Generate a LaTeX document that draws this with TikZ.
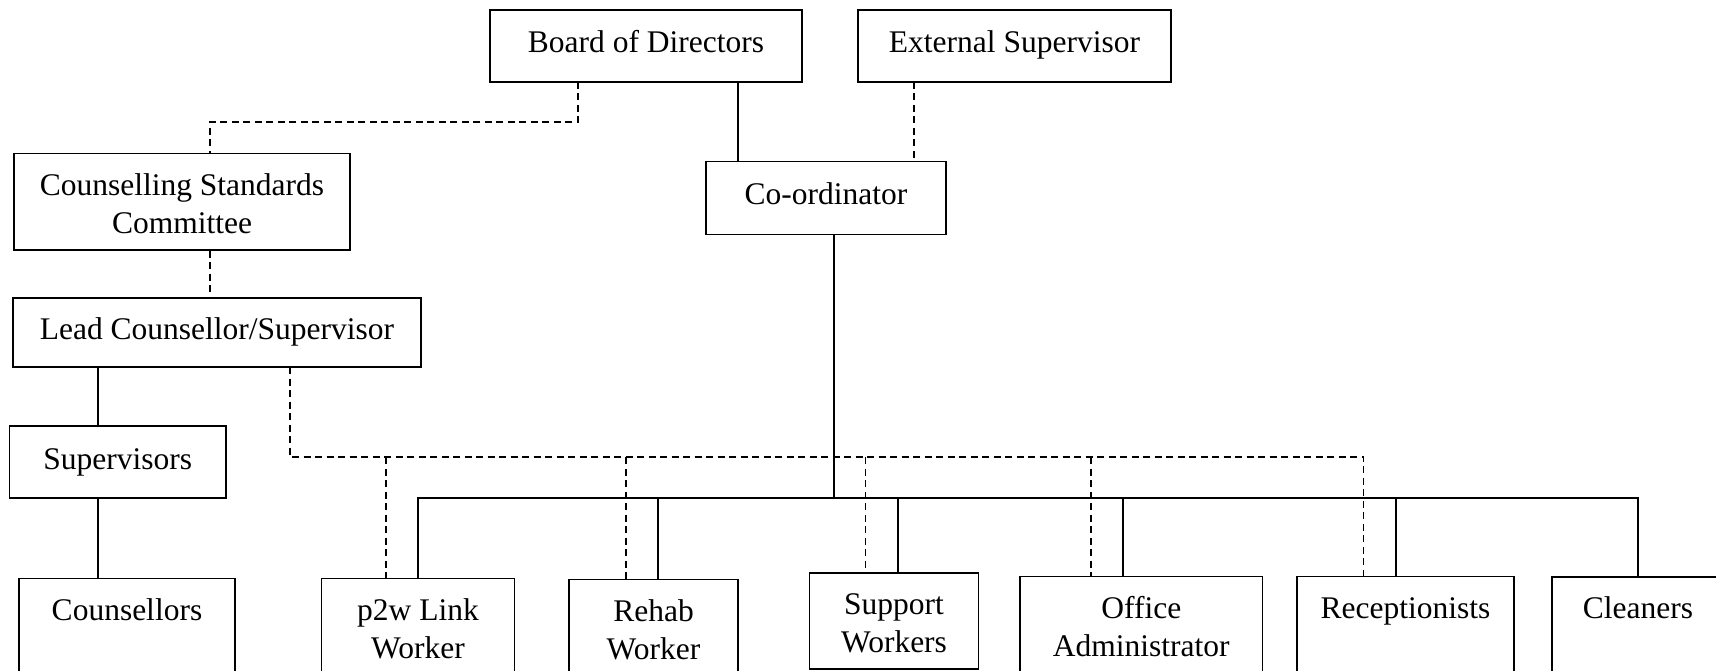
\documentclass[tikz,border=0pt]{standalone}
\usepackage{fontspec}
\setmainfont{Liberation Serif}
\begin{document}
\begin{tikzpicture}[x=1pt,y=-1pt,
  every node/.style={font=\fontsize{31.5}{38}\selectfont},
  box/.style={draw, line width=1.2pt, inner sep=0pt, align=center, text height=22pt, text depth=8pt, anchor=center},
  lowbox/.style={draw, line width=1.2pt, inner sep=0pt, align=center, anchor=north, text height=42pt, text depth=110pt},
  twoline/.style={text height=80pt, text depth=72pt},
  solidline/.style={line width=1.4pt},
  dashline/.style={line width=1.5pt, dash pattern=on 7pt off 4.5pt}]
\useasboundingbox (0,0) rectangle (1716,671);
\clip (0,0) rectangle (1716,671);
% top boxes
\node[box, minimum width=312pt, minimum height=72pt] (board) at (646,46) {Board of Directors};
\node[box, minimum width=313pt, minimum height=72pt] (ext) at (1014.5,46) {External Supervisor};
\node[box, minimum width=240pt, minimum height=73pt] (coord) at (826,198) {Co-ordinator};
\node[box, minimum width=336pt, minimum height=96.5pt, text height=64pt, text depth=0pt] (csc) at (182,201.7) {Counselling Standards\\Committee};
\node[box, minimum width=408pt, minimum height=69pt] (lead) at (217,332.5) {Lead Counsellor/Supervisor};
\node[box, minimum width=216.5pt, minimum height=72pt] (sup) at (117.7,462) {Supervisors};
% bottom boxes
\node[lowbox, minimum width=216pt] (couns) at (127,578) {Counsellors};
\node[lowbox, twoline, minimum width=192.5pt] (p2w) at (418,578) {p2w Link\\Worker};
\node[lowbox, twoline, minimum width=169pt] (rehab) at (653.5,579) {Rehab\\Worker};
\node[lowbox, text height=80pt, text depth=16pt, minimum width=168.5pt] (support) at (894,572.3) {Support\\Workers};
\node[lowbox, twoline, minimum width=242.6pt] (office) at (1141.3,575.7) {Office\\Administrator};
\node[lowbox, minimum width=217pt] (recep) at (1405.5,575.7) {Receptionists};
\node[lowbox, minimum width=172pt] (clean) at (1638,576.3) {Cleaners};
% coordinates
\coordinate (bd) at (578,82);
\coordinate (bdk) at (578,122);
\coordinate (cscTop) at (210,122);
\coordinate (bs) at (738,82);
\coordinate (es) at (914,82);
\coordinate (cs) at (834,234);
\coordinate (busC) at (834,498);
\coordinate (busL) at (418,498);
\coordinate (busR) at (1638,498);
\coordinate (ld) at (290,367);
\coordinate (dashL) at (290,457);
\coordinate (dashR) at (1363.6,457);
% left column
\draw[dashline] (bd) -- (bdk) -- (cscTop) -- (cscTop |- csc.north);
\draw[dashline] (210,0 |- csc.south) -- (210,0 |- lead.north);
\draw[solidline] (98,0 |- lead.south) -- (98,0 |- sup.north);
\draw[solidline] (98,0 |- sup.south) -- (98,0 |- couns.north);
% top to coordinator
\draw[solidline] (bs) -- (bs |- coord.north);
\draw[dashline] (es) -- (es |- coord.north);
% bus
\draw[solidline] (cs) -- (busC);
\draw[solidline] (busL |- p2w.north) -- (busL) -- (busR) -- (busR |- clean.north);
\draw[solidline] (658,498) -- (658,0 |- rehab.north);
\draw[solidline] (898,498) -- (898,0 |- support.north);
\draw[solidline] (1123,498) -- (1123,0 |- office.north);
\draw[solidline] (1396,498) -- (1396,0 |- recep.north);
% dashed lines from lead
\draw[dashline] (ld) -- (dashL) -- (dashR) -- (dashR |- recep.north);
\draw[dashline] (386,457) -- (386,0 |- p2w.north);
\draw[dashline] (626,457) -- (626,0 |- rehab.north);
\draw[dashline] (865.5,457) -- (865.5,0 |- support.north);
\draw[dashline] (1091,457) -- (1091,0 |- office.north);
\end{tikzpicture}
\end{document}
